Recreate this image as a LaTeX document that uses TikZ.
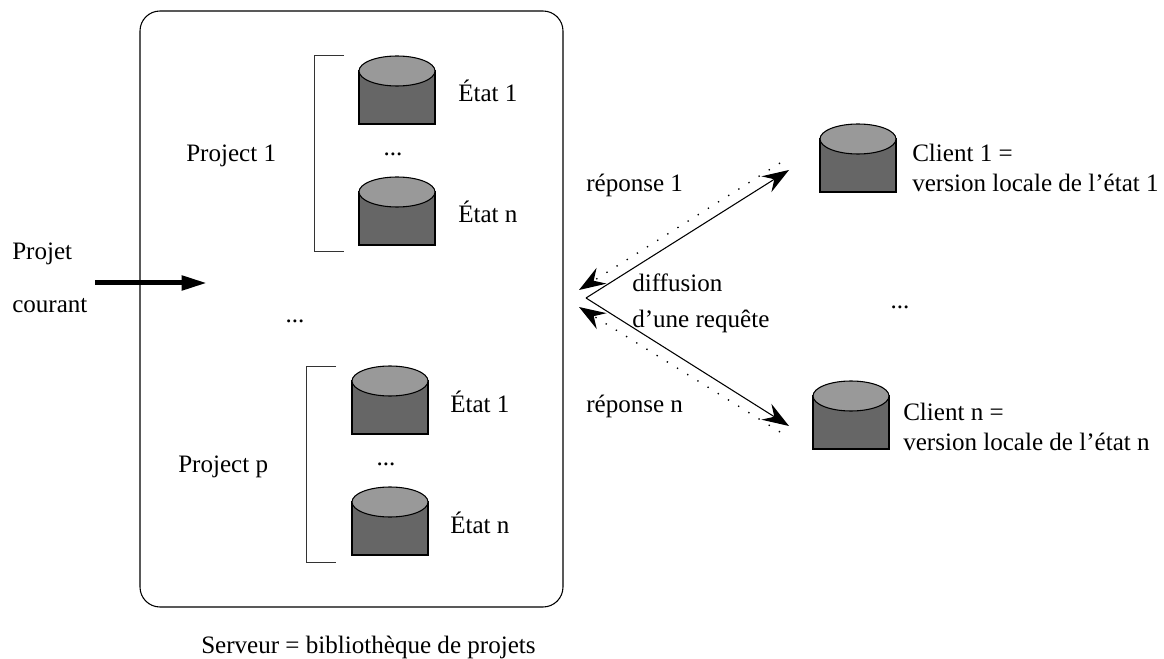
\documentclass[tikz,border=0pt]{standalone}
\usepackage{fontspec}
\setmainfont{Liberation Serif}
\usetikzlibrary{arrows.meta}
\definecolor{cylbody}{gray}{0.4}
\definecolor{cyltop}{gray}{0.6}
\tikzset{
  lbl/.style={anchor=base west,inner sep=0pt,font=\fontsize{18.8}{22}\selectfont},
  dotsl/.style={anchor=base,inner sep=0pt,font=\fontsize{18.8}{22}\selectfont},
  thinl/.style={line width=0.75pt,draw=black!80},
  solidarrow/.style={line width=0.8pt,-{Stealth[length=20pt,width=14pt,inset=7pt]}},
  dotarrow/.style={line width=1pt,dash pattern=on 1pt off 8pt,-{Stealth[length=20pt,width=14pt,inset=7pt]}},
  thickarrow/.style={line width=3.75pt,-{Triangle[length=19pt,width=10.5pt]}},
}
\newcommand{\cylat}[3]{% name, left x, top y
  \coordinate (#1) at (#2+38,#3+34);
  \filldraw[fill=cylbody,draw=black,line width=0.8pt] (#2,#3+15) -- (#2,#3+68) -- (#2+76,#3+68) -- (#2+76,#3+15) -- cycle;
  \filldraw[fill=cyltop,draw=black,line width=0.8pt] (#2+38,#3+15) ellipse [x radius=38,y radius=15];
}
\begin{document}
\begin{tikzpicture}[x=0.75pt,y=-0.75pt]
\useasboundingbox (0,0) rectangle (1164,659);
\draw[line width=0.8pt,rounded corners=15pt] (140,11) rectangle (563,607);
\draw[thinl] (344,56) -- (314,56) -- (314,252) -- (344,252);
\draw[thinl] (336,366) -- (306,366) -- (306,562) -- (336,562);
\cylat{a1}{359}{56}
\cylat{an}{359}{177}
\cylat{b1}{352}{366}
\cylat{bn}{352}{487}
\cylat{c1}{820}{124}
\cylat{cn}{813}{381}
\node[lbl] (ta1) at (458,102) {État 1};
\node[lbl] (tan) at (458,223) {État n};
\node[lbl] (tb1) at (450,412) {État 1};
\node[lbl] (tbn) at (450,533) {État n};
\node[lbl] (p1) at (186,162) {Project 1};
\node[lbl] (pp) at (178,472) {Project p};
\node[dotsl] (d1) at (393,156) {...};
\node[dotsl] (d2) at (386,465) {...};
\node[dotsl] (d3) at (295,323) {...};
\node[dotsl] (d4) at (900,309) {...};
\node[lbl] (pj) at (12,260) {Projet};
\node[lbl] (co) at (12,313) {courant};
\node[lbl] (cl1) at (912,162) {Client 1 =};
\node[lbl] (vl1) at (912,192) {version locale de l’état 1};
\node[lbl] (cln) at (903,420) {Client n =};
\node[lbl] (vln) at (903,450) {version locale de l’état n};
\node[lbl] (r1) at (586,192) {réponse 1};
\node[lbl] (rn) at (586,412) {réponse n};
\node[lbl] (df) at (632,292) {diffusion};
\node[lbl] (dr) at (632,328) {d’une requête};
\node[lbl] (sv) at (201,653) {Serveur = bibliothèque de projets};
\coordinate (o) at (586,298);
\coordinate (s1) at (789,170);
\coordinate (sn) at (789,426);
\coordinate (e1) at (780,163);
\coordinate (en) at (780,432);
\coordinate (t1) at (579,290);
\coordinate (tn) at (579,307);
\coordinate (ts) at (95,283);
\coordinate (te) at (207,283);
\draw[solidarrow] (o) -- (s1);
\draw[solidarrow] (o) -- (sn);
\draw[dotarrow] (e1) -- (t1);
\draw[dotarrow] (en) -- (tn);
\draw[thickarrow] (ts) -- (te);
\end{tikzpicture}
\end{document}
